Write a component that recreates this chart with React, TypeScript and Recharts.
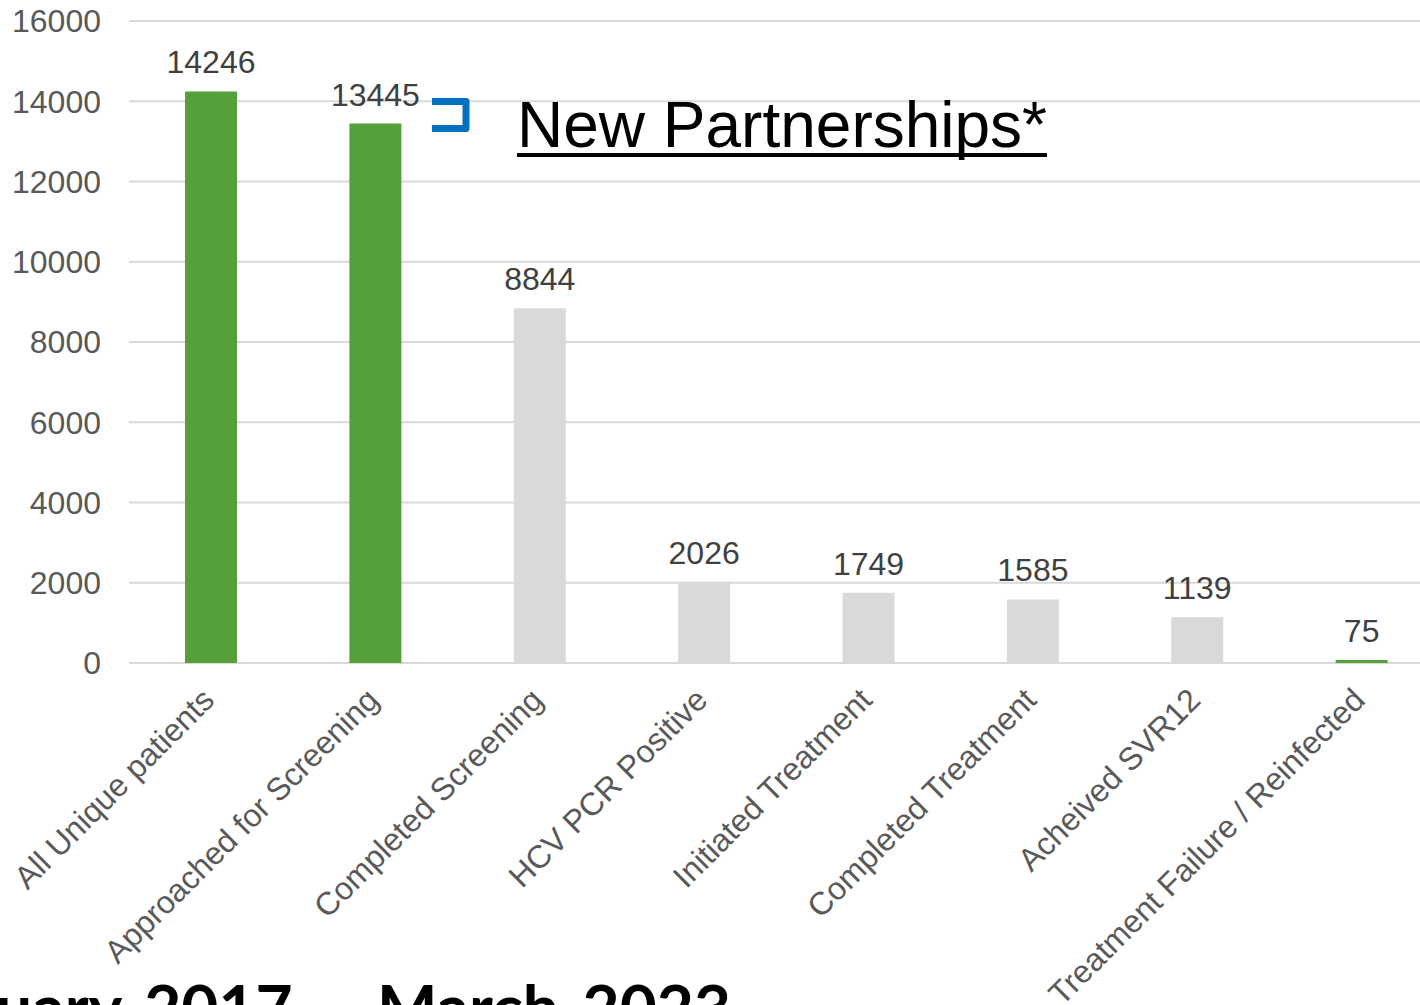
import React from "react";
import { BarChart, Bar, XAxis, YAxis, CartesianGrid, LabelList, Cell } from "recharts";

const categories = [
  "All Unique patients",
  "Approached for Screening",
  "Completed Screening",
  "HCV PCR Positive",
  "Initiated Treatment",
  "Completed Treatment",
  "Acheived SVR12",
  "Treatment Failure / Reinfected",
];
const values = [14246, 13445, 8844, 2026, 1749, 1585, 1139, 75];
const highlighted = [true, true, false, false, false, false, false, true];
const yTicks = [0, 2000, 4000, 6000, 8000, 10000, 12000, 14000, 16000];

const GREEN = "#55A03B";
const GREY = "#D9D9D9";
const FONT = "'Liberation Sans', Arial, sans-serif";

const data = categories.map((c, i) => ({ name: c, value: values[i] }));

const XTick = (props: any) => {
  const { x, y, payload } = props;
  return (
    <g transform={`translate(${x + 5},${y + 39})`}>
      <text
        x={0}
        y={0}
        textAnchor="end"
        transform="rotate(-45)"
        fill="#595959"
        fontSize={32}
        fontFamily={FONT}
      >
        {payload.value}
      </text>
    </g>
  );
};

export default function App() {
  return (
    <div
      style={{
        position: "fixed",
        left: 0,
        top: 0,
        width: 1420,
        height: 1005,
        overflow: "hidden",
        background: "#fff",
      }}
    >
      <BarChart
        width={1444}
        height={1005}
        data={data}
        margin={{ top: 21, right: 0, left: 0, bottom: 0 }}
        barCategoryGap={0}
      >
        <CartesianGrid vertical={false} stroke="#D9D9D9" strokeWidth={2} />
        <XAxis
          dataKey="name"
          axisLine={false}
          tickLine={false}
          tickSize={0}
          tickMargin={0}
          height={342}
          interval={0}
          tick={<XTick />}
        />
        <YAxis
          width={129}
          domain={[0, 16000]}
          ticks={yTicks}
          axisLine={false}
          tickLine={false}
          tickMargin={22}
          tick={{ fill: "#595959", fontSize: 32, fontFamily: FONT }}
        />
        <Bar dataKey="value" barSize={52} isAnimationActive={false}>
          {data.map((d, i) => (
            <Cell key={d.name} fill={highlighted[i] ? GREEN : GREY} />
          ))}
          <LabelList
            dataKey="value"
            position="top"
            offset={18}
            fill="#404040"
            fontSize={32}
            fontFamily={FONT}
          />
        </Bar>
      </BarChart>
      <svg
        width={1420}
        height={1005}
        style={{ position: "absolute", left: 0, top: 0, pointerEvents: "none" }}
      >
        <path
          d="M432,101.5 H466 V128.5 H432"
          fill="none"
          stroke="#0070C0"
          strokeWidth={7}
          strokeLinejoin="round"
        />
        <text x={517} y={147} fontSize={64} fill="#000" fontFamily={FONT}>
          New Partnerships*
        </text>
        <rect x={517} y={153} width={530} height={4} fill="#000" />
        <text
          x={731}
          y={1031}
          textAnchor="end"
          fontSize={64}
          fontWeight={700}
          wordSpacing={8}
          fill="#000"
          fontFamily="Lato, 'Open Sans', sans-serif"
        >
          January 2017 – March 2023
        </text>
      </svg>
    </div>
  );
}
